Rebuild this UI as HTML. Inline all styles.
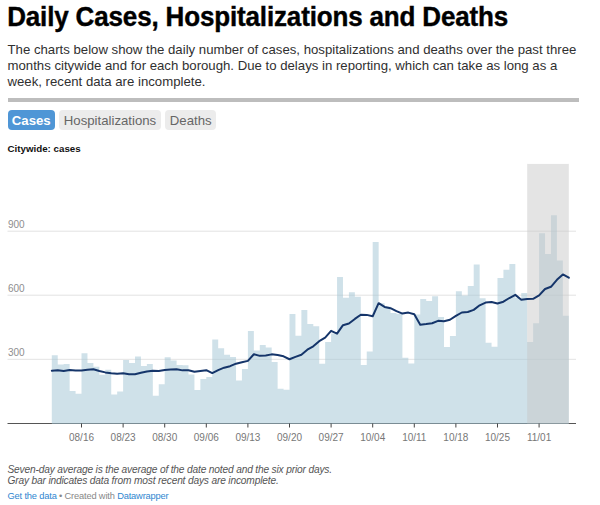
<!DOCTYPE html>
<html><head><meta charset="utf-8">
<style>
html,body{margin:0;padding:0;background:#fff;width:600px;height:505px;overflow:hidden;}
body{position:relative;font-family:"Liberation Sans",Arial,Helvetica,sans-serif;color:#333;}
.title{position:absolute;left:7.2px;top:0.7px;font-size:26px;font-weight:bold;color:#000;line-height:32px;white-space:nowrap;letter-spacing:-0.155px;-webkit-text-stroke:0.4px #000;transform:scaleY(1.065);transform-origin:0 25px;}
.desc{position:absolute;left:7.5px;top:41.9px;width:580px;font-size:13.2px;line-height:16.05px;color:#303030;}
.rule{position:absolute;left:7.5px;top:98px;width:571px;height:3.7px;background:#bdbdbd;}
.btn{position:absolute;top:110px;height:19.7px;border-radius:4px;font-size:13.2px;line-height:21.6px;white-space:nowrap;box-sizing:border-box;}
.b1{left:7.6px;width:47.4px;background:#4f96d6;color:#fff;font-weight:bold;text-align:center;}
.b2{left:59px;width:102px;background:#ececec;color:#666;text-align:center;}
.b3{left:165.4px;width:50.6px;background:#ececec;color:#666;text-align:center;}
.sub{position:absolute;left:7.5px;top:142.5px;font-size:9.75px;font-weight:bold;color:#111;line-height:12px;}
svg{position:absolute;left:0;top:0;}
.tk{stroke:#444;stroke-width:1;}
.xl{font-size:10px;fill:#777;text-anchor:middle;font-family:"Liberation Sans",Arial,sans-serif;}
.yl{font-size:10px;fill:#8e8e8e;font-family:"Liberation Sans",Arial,sans-serif;}
.notes{position:absolute;left:7.5px;top:464.1px;font-size:10.2px;font-style:italic;color:#555;line-height:11px;white-space:nowrap;letter-spacing:-0.17px;}
.foot{position:absolute;left:7.5px;top:489.6px;font-size:9.3px;letter-spacing:-0.17px;color:#888;line-height:12px;white-space:nowrap;}
.foot a{color:#2f86d0;text-decoration:none;}
</style></head><body>
<div class="title">Daily Cases, Hospitalizations and Deaths</div>
<div class="desc">The charts below show the daily number of cases, hospitalizations and deaths over the past three months citywide and for each borough. Due to delays in reporting, which can take as long as a week, recent data are incomplete.</div>
<div class="rule"></div>
<div class="btn b1">Cases</div>
<div class="btn b2">Hospitalizations</div>
<div class="btn b3">Deaths</div>
<div class="sub">Citywide: cases</div>
<svg width="600" height="505" viewBox="0 0 600 505">
<line x1="7.5" y1="423.5" x2="576" y2="423.5" stroke="#555" stroke-width="1"/>
<line x1="7.5" y1="231.2" x2="576" y2="231.2" stroke="#e3e3e3" stroke-width="1"/>
<line x1="7.5" y1="295.2" x2="576" y2="295.2" stroke="#e3e3e3" stroke-width="1"/>
<line x1="7.5" y1="359.3" x2="576" y2="359.3" stroke="#e3e3e3" stroke-width="1"/>
<text x="8" y="227.6" class="yl">900</text>
<text x="8" y="291.6" class="yl">600</text>
<text x="8" y="355.7" class="yl">300</text>
<path d="M51.80,424.00 L51.80,355.20 L57.74,355.20 L57.74,364.60 L63.69,364.60 L63.69,364.10 L69.63,364.10 L69.63,391.10 L75.57,391.10 L75.57,393.80 L81.51,393.80 L81.51,353.30 L87.46,353.30 L87.46,362.90 L93.40,362.90 L93.40,366.80 L99.34,366.80 L99.34,374.70 L105.28,374.70 L105.28,369.80 L111.23,369.80 L111.23,394.40 L117.17,394.40 L117.17,391.40 L123.11,391.40 L123.11,360.00 L129.05,360.00 L129.05,362.90 L135.00,362.90 L135.00,356.60 L140.94,356.60 L140.94,365.90 L146.88,365.90 L146.88,364.10 L152.82,364.10 L152.82,395.80 L158.77,395.80 L158.77,384.30 L164.71,384.30 L164.71,357.20 L170.65,357.20 L170.65,360.40 L176.59,360.40 L176.59,364.90 L182.54,364.90 L182.54,365.20 L188.48,365.20 L188.48,374.50 L194.42,374.50 L194.42,390.10 L200.36,390.10 L200.36,379.10 L206.31,379.10 L206.31,377.10 L212.25,377.10 L212.25,339.50 L218.19,339.50 L218.19,348.30 L224.13,348.30 L224.13,354.80 L230.08,354.80 L230.08,356.90 L236.02,356.90 L236.02,380.40 L241.96,380.40 L241.96,369.10 L247.90,369.10 L247.90,331.00 L253.85,331.00 L253.85,350.60 L259.79,350.60 L259.79,345.10 L265.73,345.10 L265.73,347.40 L271.67,347.40 L271.67,362.10 L277.62,362.10 L277.62,388.80 L283.56,388.80 L283.56,389.70 L289.50,389.70 L289.50,314.10 L295.44,314.10 L295.44,335.70 L301.39,335.70 L301.39,310.00 L307.33,310.00 L307.33,323.90 L313.27,323.90 L313.27,326.20 L319.21,326.20 L319.21,363.80 L325.16,363.80 L325.16,342.10 L331.10,342.10 L331.10,333.50 L337.04,333.50 L337.04,276.90 L342.98,276.90 L342.98,297.80 L348.93,297.80 L348.93,292.20 L354.87,292.20 L354.87,296.80 L360.81,296.80 L360.81,364.90 L366.75,364.90 L366.75,351.50 L372.70,351.50 L372.70,242.10 L378.64,242.10 L378.64,303.30 L384.58,303.30 L384.58,306.50 L390.52,306.50 L390.52,313.00 L396.47,313.00 L396.47,314.00 L402.41,314.00 L402.41,357.70 L408.35,357.70 L408.35,363.50 L414.29,363.50 L414.29,314.60 L420.24,314.60 L420.24,299.00 L426.18,299.00 L426.18,301.00 L432.12,301.00 L432.12,296.30 L438.06,296.30 L438.06,317.00 L444.01,317.00 L444.01,346.90 L449.95,346.90 L449.95,336.10 L455.89,336.10 L455.89,291.20 L461.83,291.20 L461.83,295.40 L467.78,295.40 L467.78,286.00 L473.72,286.00 L473.72,264.40 L479.66,264.40 L479.66,298.30 L485.60,298.30 L485.60,342.80 L491.55,342.80 L491.55,346.80 L497.49,346.80 L497.49,278.10 L503.43,278.10 L503.43,269.70 L509.37,269.70 L509.37,264.00 L515.32,264.00 L515.32,298.00 L521.26,298.00 L521.26,293.00 L527.20,293.00 L527.20,342.00 L533.14,342.00 L533.14,323.30 L539.09,323.30 L539.09,233.30 L545.03,233.30 L545.03,254.00 L550.97,254.00 L550.97,215.30 L556.91,215.30 L556.91,260.50 L562.86,260.50 L562.86,315.80 L568.80,315.80 L568.80,424.00 Z" fill="#9fc3d3" fill-opacity="0.5"/>
<rect x="527.20" y="163.9" width="41.60" height="259.6" fill="#c6c6c6" fill-opacity="0.48"/>
<line x1="81.51" y1="423.5" x2="81.51" y2="427.5" class="tk"/><text x="81.51" y="441.2" class="xl">08/16</text><line x1="123.11" y1="423.5" x2="123.11" y2="427.5" class="tk"/><text x="123.11" y="441.2" class="xl">08/23</text><line x1="164.71" y1="423.5" x2="164.71" y2="427.5" class="tk"/><text x="164.71" y="441.2" class="xl">08/30</text><line x1="206.31" y1="423.5" x2="206.31" y2="427.5" class="tk"/><text x="206.31" y="441.2" class="xl">09/06</text><line x1="247.90" y1="423.5" x2="247.90" y2="427.5" class="tk"/><text x="247.90" y="441.2" class="xl">09/13</text><line x1="289.50" y1="423.5" x2="289.50" y2="427.5" class="tk"/><text x="289.50" y="441.2" class="xl">09/20</text><line x1="331.10" y1="423.5" x2="331.10" y2="427.5" class="tk"/><text x="331.10" y="441.2" class="xl">09/27</text><line x1="372.70" y1="423.5" x2="372.70" y2="427.5" class="tk"/><text x="372.70" y="441.2" class="xl">10/04</text><line x1="414.29" y1="423.5" x2="414.29" y2="427.5" class="tk"/><text x="414.29" y="441.2" class="xl">10/11</text><line x1="455.89" y1="423.5" x2="455.89" y2="427.5" class="tk"/><text x="455.89" y="441.2" class="xl">10/18</text><line x1="497.49" y1="423.5" x2="497.49" y2="427.5" class="tk"/><text x="497.49" y="441.2" class="xl">10/25</text><line x1="539.09" y1="423.5" x2="539.09" y2="427.5" class="tk"/><text x="539.09" y="441.2" class="xl">11/01</text>
<path d="M51.80,370.70 L57.74,370.30 L63.69,371.00 L69.63,370.10 L75.57,370.50 L81.51,370.50 L87.46,369.80 L93.40,369.29 L99.34,370.94 L105.28,372.39 L111.23,373.20 L117.17,373.67 L123.11,373.33 L129.05,374.29 L135.00,374.29 L140.94,372.83 L146.88,371.57 L152.82,370.76 L158.77,370.96 L164.71,369.94 L170.65,369.54 L176.59,369.19 L182.54,370.37 L188.48,370.27 L194.42,371.76 L200.36,370.94 L206.31,370.20 L212.25,373.04 L218.19,370.06 L224.13,367.69 L230.08,366.20 L236.02,363.69 L241.96,362.30 L247.90,360.87 L253.85,354.29 L259.79,355.87 L265.73,355.41 L271.67,354.36 L277.62,355.10 L283.56,356.30 L289.50,359.24 L295.44,356.83 L301.39,354.70 L307.33,349.69 L313.27,346.33 L319.21,341.20 L325.16,337.63 L331.10,330.83 L337.04,333.60 L342.98,325.20 L348.93,323.46 L354.87,318.93 L360.81,314.73 L366.75,314.89 L372.70,316.23 L378.64,303.17 L384.58,306.94 L390.52,308.19 L396.47,311.16 L402.41,313.61 L408.35,312.59 L414.29,314.30 L420.24,324.66 L426.18,324.04 L432.12,323.26 L438.06,320.87 L444.01,321.30 L449.95,319.76 L455.89,315.84 L461.83,312.50 L467.78,311.99 L473.72,309.84 L479.66,305.29 L485.60,302.61 L491.55,302.03 L497.49,303.56 L503.43,301.69 L509.37,298.01 L515.32,294.87 L521.26,299.67 L527.20,298.91 L533.14,298.80 L539.09,295.44 L545.03,289.04 L550.97,286.80 L556.91,279.84 L562.86,274.49 L568.80,277.74" fill="none" stroke="#15356a" stroke-width="2" stroke-linejoin="round" stroke-linecap="round"/>
</svg>
<div class="notes">Seven-day average is the average of the date noted and the six prior days.<br>Gray bar indicates data from most recent days are incomplete.</div>
<div class="foot"><a>Get the data</a> • Created with <a>Datawrapper</a></div>
</body></html>
